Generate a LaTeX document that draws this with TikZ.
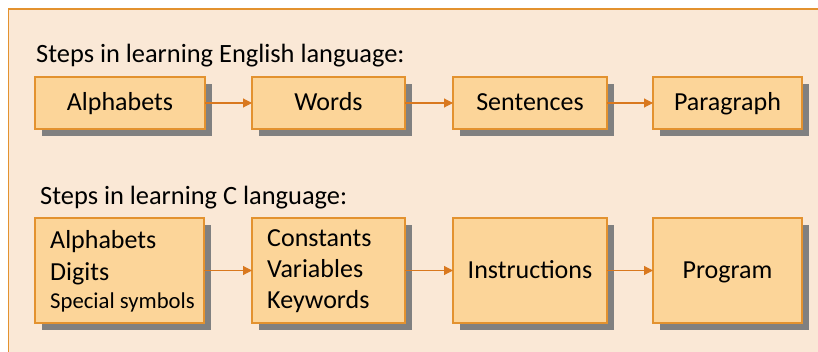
\documentclass[tikz,border=0pt]{standalone}
\usepackage{fontspec}
\setmainfont{Carlito}
\usetikzlibrary{arrows.meta,shadows}
\definecolor{bgpeach}{HTML}{FAE8D6}
\definecolor{boxfill}{HTML}{FCD599}
\definecolor{boxline}{HTML}{E3922F}
\definecolor{arrowcol}{HTML}{D9781E}
\definecolor{shadowgray}{HTML}{808080}
\tikzset{
  stepbox/.style={draw=boxline, line width=1.2pt, fill=boxfill,
    general shadow={fill=shadowgray, shadow xshift=7pt, shadow yshift=-7pt},
    font=\fontsize{26}{31}\selectfont, inner sep=0pt, outer sep=0pt,
    text height=20pt, text depth=5pt},
  listtext/.style={anchor=base west, inner sep=0pt, font=\fontsize{26}{31}\selectfont},
  smalltext/.style={listtext, font=\fontsize{22.7}{27}\selectfont},
  heading/.style={anchor=base west, inner sep=0pt, font=\fontsize{26.4}{31}\selectfont},
  flow/.style={draw=arrowcol, line width=1.1pt, -{Triangle[length=9pt,width=9pt]}}
}
\begin{document}
\begin{tikzpicture}[x=1pt,y=-1pt]
\useasboundingbox (0,0) rectangle (818,352);
\fill[bgpeach] (8.5,9) rectangle (830,360);
\draw[boxline, line width=1.3pt] (8.5,362) -- (8.5,9) -- (830,9);
\node[heading] (h1) at (36,63) {Steps in learning English language:};
\node[heading] (h2) at (40,205) {Steps in learning C language:};
% row 1
\node[stepbox, minimum width=170pt, minimum height=52pt] (a1) at (120,103) {Alphabets};
\node[stepbox, minimum width=153pt, minimum height=52pt] (w1) at (328.5,103) {Words};
\node[stepbox, minimum width=154pt, minimum height=52pt] (s1) at (530,103) {Sentences};
\node[stepbox, minimum width=149pt, minimum height=52pt] (p1) at (727.5,103) {Paragraph};
% row 2
\node[stepbox, minimum width=169pt, minimum height=105pt] (a2) at (119.5,270.5) {};
\node[listtext] (a2l1) at (50,249) {Alphabets};
\node[listtext] (a2l2) at (50,280) {Digits};
\node[smalltext] (a2l3) at (50,308) {Special symbols};
\node[stepbox, minimum width=153pt, minimum height=105pt] (c2) at (328.5,270.5) {};
\node[listtext] (c2l1) at (267,247) {Constants};
\node[listtext] (c2l2) at (267,277.5) {Variables};
\node[listtext] (c2l3) at (267,308) {Keywords};
\node[stepbox, minimum width=154pt, minimum height=105pt, text depth=3pt] (i2) at (530,270.5) {Instructions};
\node[stepbox, minimum width=149pt, minimum height=105pt, text depth=3pt] (p2) at (727.5,270.5) {Program};
% arrows
\draw[flow] (a1) -- (w1);
\draw[flow] (w1) -- (s1);
\draw[flow] (s1) -- (p1);
\draw[flow] (a2) -- (c2);
\draw[flow] (c2) -- (i2);
\draw[flow] (i2) -- (p2);
\end{tikzpicture}
\end{document}
